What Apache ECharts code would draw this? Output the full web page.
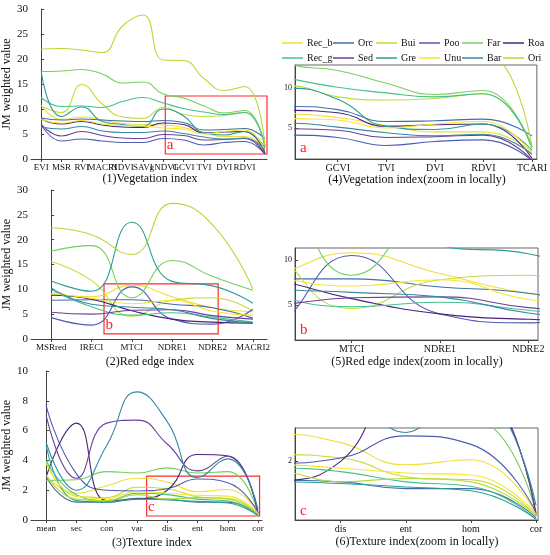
<!DOCTYPE html>
<html><head><meta charset="utf-8">
<script src="https://cdn.jsdelivr.net/npm/echarts@6/dist/echarts.min.js"></script>
<style>html,body{margin:0;padding:0;background:#fff}#c{width:550px;height:555px}</style>
</head><body><div id="c"></div>
<script>
const seriesNames = ['Rec_b','Orc','Bui','Poo','Far','Roa','Rec_g','Sed','Gre','Unu','Bar','Ori'];
const seriesColors = ['#f0de3a','#3f6fa8','#c2dc3a','#4f5cb2','#74d05c','#47247a','#45c08c','#6d3f99','#2b9f96','#f7e62c','#3787a6','#b5da34'];

const vegCats = ['EVI','MSR','RVI','MACRI','NDVI','SAVI','gNDVI','GCVI','TVI','DVI','RDVI','TCARI'];
const redCats = ['MSRred','IRECI','MTCI','NDRE1','NDRE2','MACRI2'];
const texCats = ['mean','sec','con','var','dis','ent','hom','cor'];

const yTicksVeg = [0,5,10,15,20,25,30];
const yTicksRed = [0,5,10,15,20,25,30];
const yTicksTex = [0,2,4,6,8,10];
const yTicksVegZoom = [5,10];
const yTicksRedZoom = [5,10];
const yTicksTexZoom = [2];

// order follows seriesNames
const vegValues = [
  [10.7, 7.9, 8.4, 7.8, 7.1, 6.9, 6.8, 6.3, 5.3, 4.5, 4.5, 2.0],   // Rec_b
  [8.2, 7.8, 8.0, 7.8, 7.6, 7.5, 7.7, 7.3, 5.8, 5.9, 6.1, 4.0],    // Orc
  [10.6, 9.3, 14.9, 11.0, 8.4, 8.1, 10.3, 8.9, 8.5, 8.7, 9.3, 2.8],// Bui
  [6.9, 3.6, 4.0, 3.6, 3.3, 3.3, 4.1, 3.8, 2.8, 3.3, 3.5, 0.9],    // Poo
  [17.5, 17.6, 17.9, 17.0, 15.2, 15.4, 13.0, 12.2, 10.6, 9.2, 9.7, 2.4], // Far
  [8.0, 7.0, 7.5, 6.8, 6.4, 6.3, 7.2, 6.9, 5.2, 5.4, 5.5, 1.2],    // Roa
  [12.3, 10.5, 10.6, 10.3, 11.5, 12.3, 11.2, 10.1, 9.4, 8.9, 9.3, 2.6], // Rec_g
  [7.0, 4.6, 5.5, 4.7, 4.2, 4.1, 4.9, 4.7, 3.8, 3.9, 4.1, 1.0],    // Sed
  [17.5, 8.5, 10.4, 7.5, 6.9, 6.5, 10.0, 8.6, 5.2, 4.8, 5.5, 2.2], // Gre
  [7.9, 7.2, 7.7, 7.0, 6.7, 6.6, 6.2, 6.0, 5.0, 5.5, 5.8, 1.7],    // Unu
  [6.4, 6.0, 6.5, 5.6, 5.3, 5.3, 5.6, 5.1, 4.4, 4.0, 4.2, 1.7],    // Bar
  [22.0, 22.1, 21.8, 21.3, 26.6, 28.8, 19.8, 19.7, 16.1, 13.7, 14.5, 2.6] // Ori
];
const redValues = [
  [9.0, 8.5, 10.8, 8.5, 6.3, 5.5],   // Rec_b
  [7.8, 7.9, 7.9, 7.0, 6.3, 4.2],    // Orc
  [15.6, 11.8, 4.6, 7.8, 8.3, 5.6],  // Bui
  [4.3, 2.8, 10.5, 4.0, 3.0, 6.0],   // Poo
  [17.7, 18.8, 8.3, 15.8, 12.6, 9.8],// Far
  [8.8, 8.0, 5.7, 4.0, 3.4, 3.2],    // Roa
  [9.9, 6.5, 4.8, 5.3, 4.4, 3.4],    // Rec_g
  [5.4, 5.0, 5.8, 5.9, 4.7, 4.0],    // Sed
  [11.7, 9.6, 23.5, 11.6, 10.7, 7.2],// Gre
  [9.2, 8.2, 7.1, 7.8, 5.6, 4.8],    // Unu
  [10.3, 7.0, 6.4, 5.9, 4.1, 3.3],   // Bar
  [22.4, 21.0, 17.0, 27.3, 23.0, 10.0] // Ori
];
const texValues = [
  [3.0, 1.8, 2.3, 2.8, 2.55, 1.9, 2.05, 0.45],  // Rec_b
  [2.9, 1.2, 1.2, 1.45, 1.4, 1.2, 1.2, 0.35],   // Orc
  [3.9, 1.6, 1.5, 2.2, 2.1, 1.55, 1.4, 0.4],    // Bui
  [7.7, 3.1, 2.0, 1.95, 2.1, 2.75, 2.5, 0.5],   // Poo
  [2.65, 2.7, 3.25, 3.15, 3.5, 3.15, 3.25, 0.5],// Far
  [2.9, 6.5, 1.3, 1.4, 2.0, 4.4, 4.3, 0.45],    // Roa
  [4.0, 1.7, 1.3, 1.8, 1.7, 1.4, 1.27, 0.3],    // Rec_g
  [7.0, 2.8, 6.5, 6.7, 5.1, 3.3, 4.3, 0.4],     // Sed
  [5.0, 1.3, 1.2, 1.4, 1.35, 1.25, 1.14, 0.3],  // Gre
  [3.8, 1.6, 1.45, 1.9, 1.8, 1.66, 1.6, 0.45],  // Unu
  [5.2, 2.0, 5.0, 8.6, 6.6, 2.85, 4.1, 0.7],    // Bar
  [3.0, 1.4, 1.3, 1.7, 1.4, 1.5, 1.46, 0.4]     // Ori
];

const FONT = 'Liberation Serif';
const chart = echarts.init(document.getElementById('c'), null, {renderer:'canvas'});

const grids = [
  {left:31, top:9, width:236, height:150},
  {left:31, top:190, width:236, height:149},
  {left:31, top:371, width:231, height:149},
  {left:295, top:65, width:243, height:94, show:true, borderColor:'#666', borderWidth:1},
  {left:295, top:248, width:243, height:92, show:true, borderColor:'#666', borderWidth:1},
  {left:295, top:428, width:243, height:92, show:true, borderColor:'#666', borderWidth:1}
];

const panels = [
  {cats:vegCats, vals:vegValues, xmin:-0.5, xmax:11.1, ymin:0, ymax:30, yt:yTicksVeg, box:{x0:6.1,x1:11.1,y0:12.6,y1:1.0,l:'a'}},
  {cats:redCats, vals:redValues, xmin:-0.5, xmax:5.35, ymin:0, ymax:30, yt:yTicksRed, box:{x0:1.31,x1:4.14,y0:11.1,y1:1.05,l:'b'}},
  {cats:texCats, vals:texValues, xmin:-0.5, xmax:7.13, ymin:0, ymax:10, yt:yTicksTex, box:{x0:3.32,x1:7.05,y0:2.95,y1:0.27,l:'c'}},
  {cats:vegCats, vals:vegValues, xmin:6.12, xmax:11.1, ymin:1.1, ymax:12.9, yt:yTicksVegZoom},
  {cats:redCats, vals:redValues, xmin:1.36, xmax:4.11, ymin:1.1, ymax:11.33, yt:yTicksRedZoom},
  {cats:texCats, vals:texValues, xmin:3.30, xmax:7.03, ymin:0.28, ymax:2.98, yt:yTicksTexZoom}
];

const xAxes = [], yAxes = [], series = [];
panels.forEach((p, gi) => {
  const idx = p.cats.map((_, i) => i).filter(i => i >= p.xmin - 1e-6 && i <= p.xmax + 1e-6);
  xAxes.push({
    type:'value', gridIndex:gi, min:p.xmin, max:p.xmax,
    axisLine:{show:true, onZero:false, lineStyle:{color:'#444', width:1}},
    axisTick:{show:true, customValues:idx, length:3, lineStyle:{color:'#444'}},
    axisLabel:{customValues:idx, formatter:v => p.cats[Math.round(v)], fontFamily:FONT, fontSize:gi<3?9:10, color:'#111', margin:4},
    splitLine:{show:false}
  });
  yAxes.push({
    type:'value', gridIndex:gi, min:p.ymin, max:p.ymax,
    name: gi<3 ? 'JM weighted value' : '', nameLocation:'middle', nameGap:17,
    nameTextStyle:{fontFamily:FONT, fontSize:12, color:'#111'},
    axisLine:{show:true, lineStyle:{color:'#444', width:1}},
    axisTick:{show:true, inside:true, customValues:p.yt, length:3, lineStyle:{color:'#444'}},
    axisLabel:{customValues:p.yt, fontFamily:FONT, fontSize:gi<3?11:8, color:'#111', margin:3},
    splitLine:{show:false}
  });
  seriesNames.forEach((name, si) => {
    const s = {
      type:'line', name, xAxisIndex:gi, yAxisIndex:gi,
      data:p.vals[si].map((v, i) => [i, v]),
      smooth:0.5, showSymbol:false, symbol:'none', clip:true,
      lineStyle:{width:1.1, color:seriesColors[si]}, itemStyle:{color:seriesColors[si]},
      emphasis:{disabled:true}, silent:true, z:2
    };
    if (si === 0 && p.box) {
      s.markArea = {
        silent:true,
        itemStyle:{color:'rgba(0,0,0,0)', borderColor:'#ff2a2a', borderWidth:1.2},
        label:{show:true, position:'insideBottomLeft', distance:2, color:'#ff2020', fontSize:15, fontFamily:FONT, formatter:p.box.l},
        data:[[{coord:[p.box.x0, p.box.y0]}, {coord:[p.box.x1, p.box.y1]}]]
      };
    }
    series.push(s);
  });
});

const legendCols = [0,1,2,3,4,5].map(c => ({
  orient:'vertical', left:[277,328,371,414,457,498][c], top:33, itemGap:5,
  itemWidth:21, itemHeight:1.5, icon:'rect', data:[seriesNames[c], seriesNames[c+6]],
  textStyle:{fontFamily:FONT, fontSize:10, color:'#111', padding:[0,0,0,-1]},
  selectedMode:false
}));

const titles = [
  {t:'(1)Vegetation index', x:150, y:179},
  {t:'(2)Red edge index', x:150, y:362},
  {t:'(3)Texture index', x:152, y:543},
  {t:'(4)Vegetation index(zoom in locally)', x:417, y:180},
  {t:'(5)Red edge index(zoom in locally)', x:417, y:362},
  {t:'(6)Texture index(zoom in locally)', x:417, y:542}
];
const letters = [{t:'a', x:300, y:148}, {t:'b', x:300, y:330}, {t:'c', x:300, y:511}];
const graphic = titles.map(o => ({type:'text', x:o.x, y:o.y, style:{text:o.t, font:'12px "Liberation Serif"', fill:'#111', align:'center', verticalAlign:'middle'}, z:10}))
  .concat(letters.map(o => ({type:'text', x:o.x, y:o.y, style:{text:o.t, font:'15px "Liberation Serif"', fill:'#ff2020', align:'left', verticalAlign:'middle'}, z:10})));

chart.setOption({
  animation:false, backgroundColor:'#fff',
  grid:grids, xAxis:xAxes, yAxis:yAxes, series, legend:legendCols, graphic
});
</script></body></html>
